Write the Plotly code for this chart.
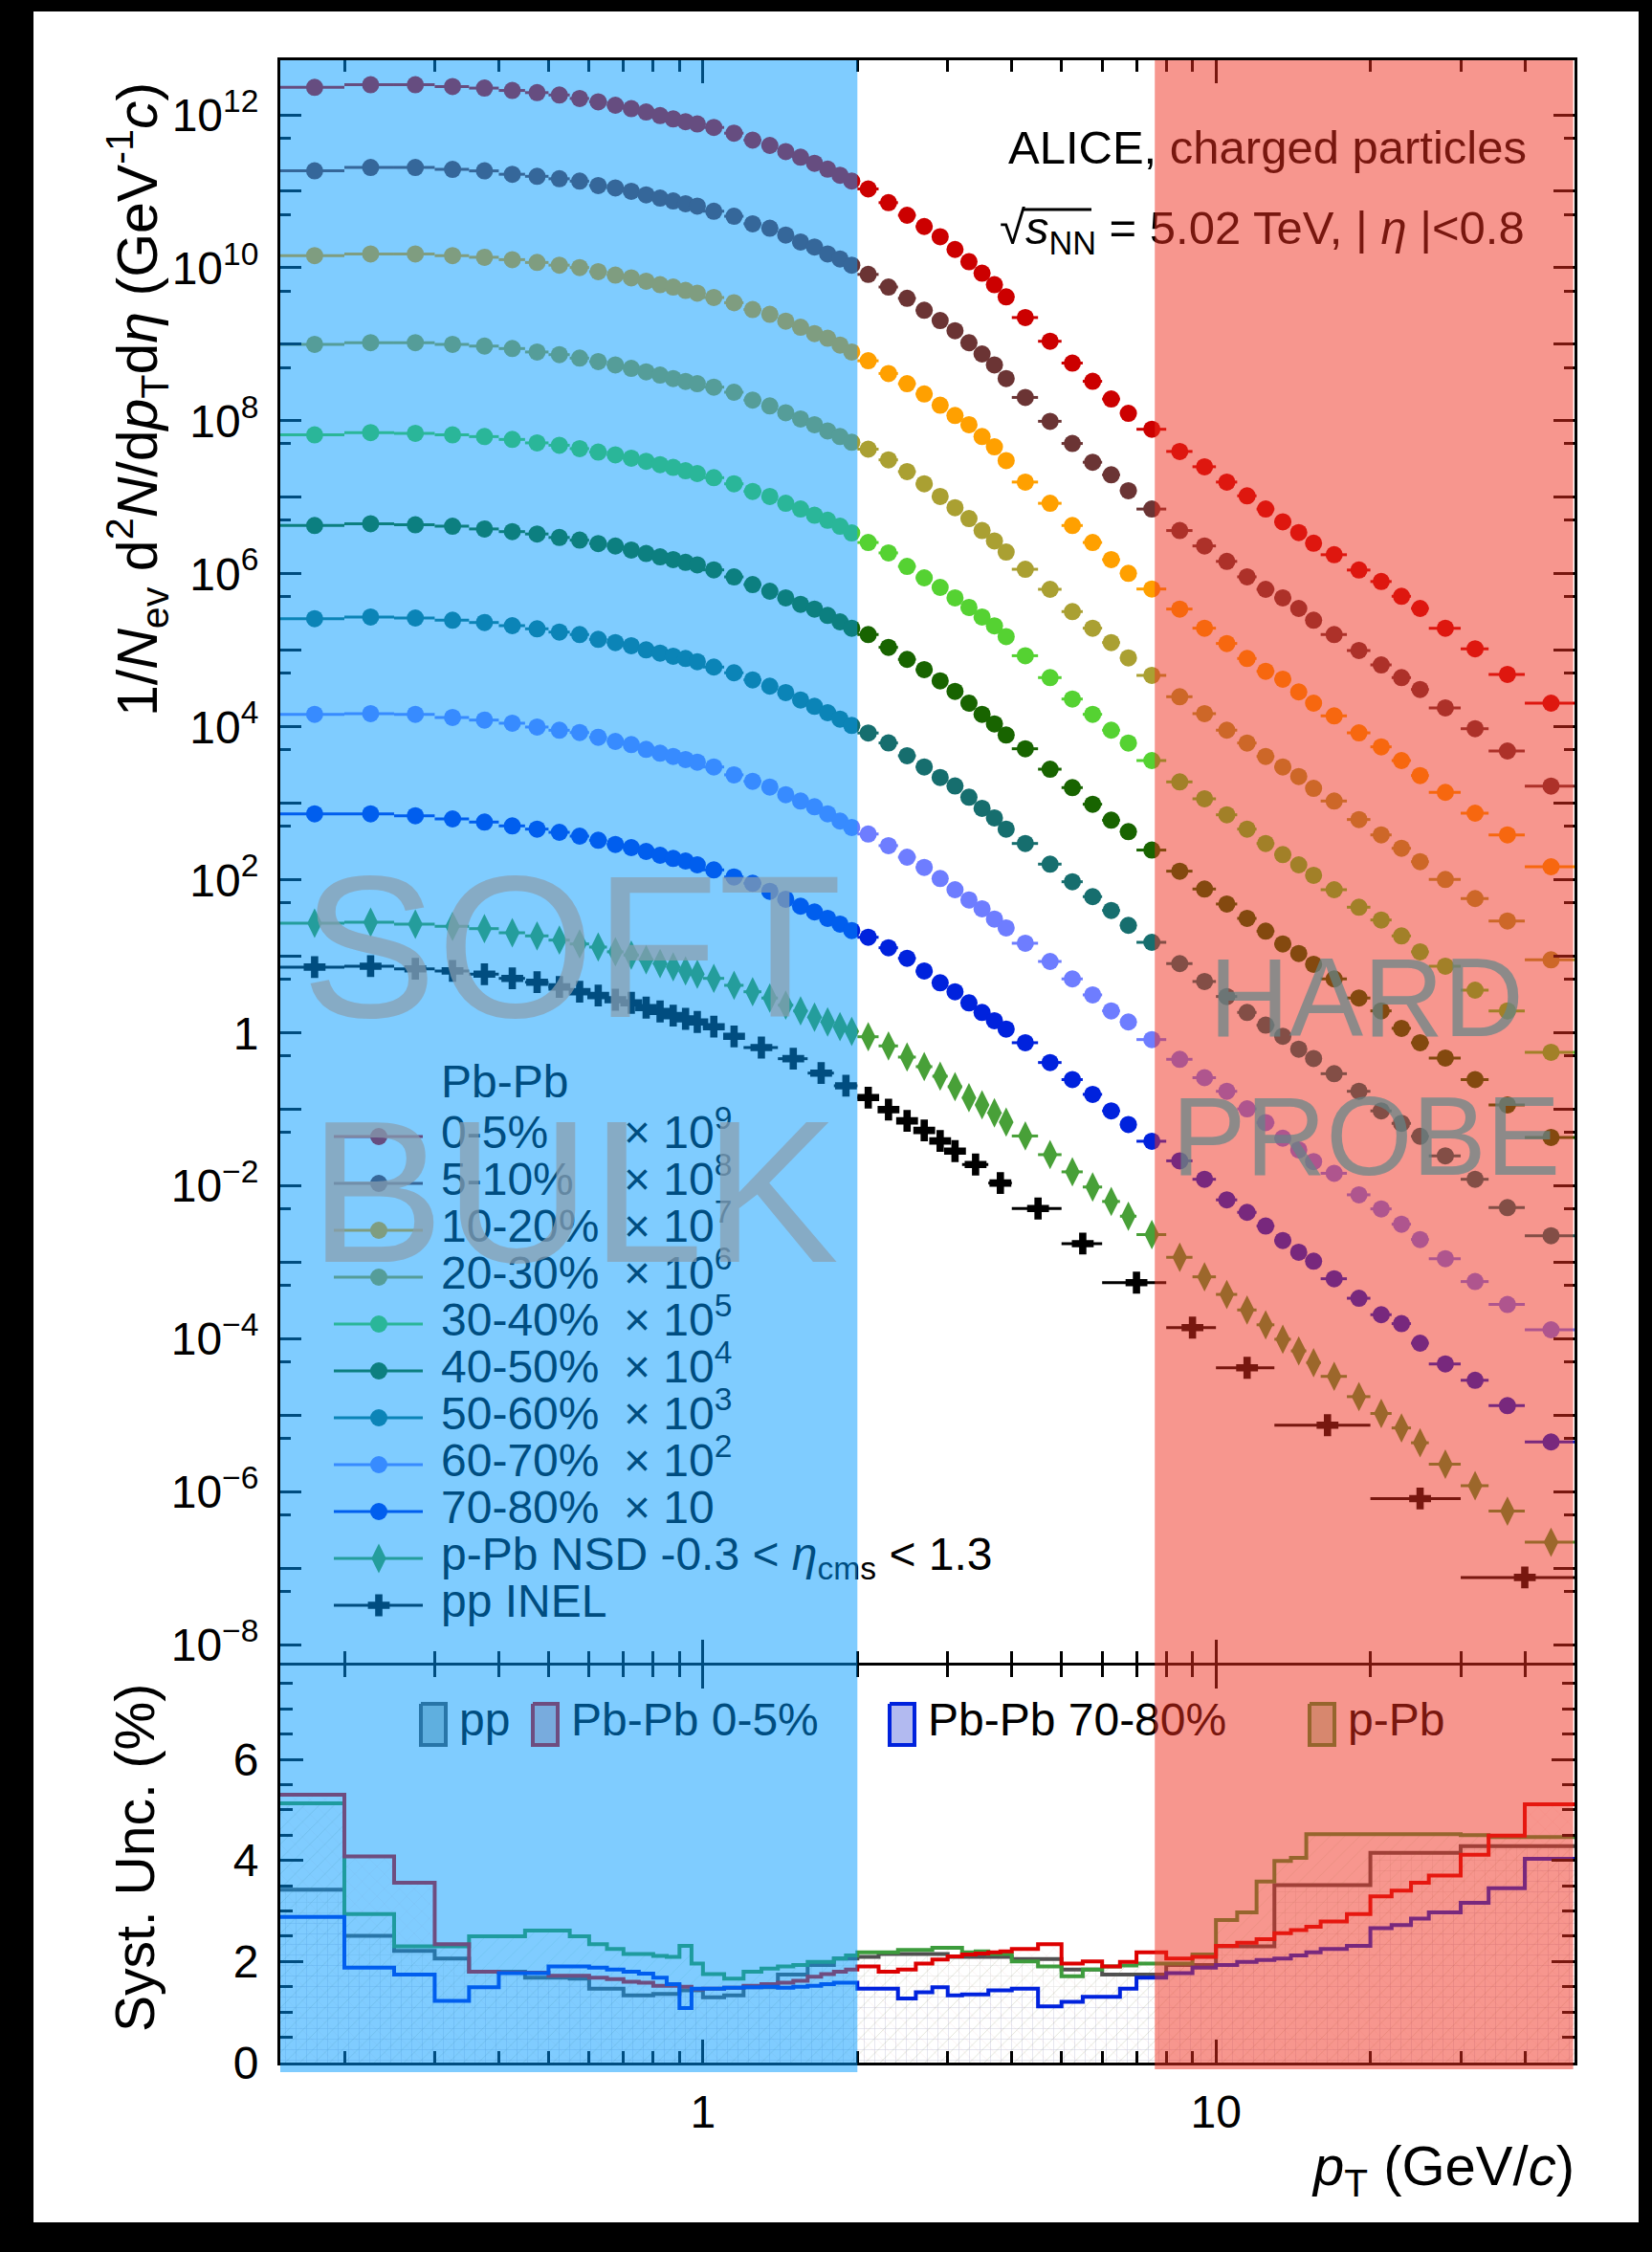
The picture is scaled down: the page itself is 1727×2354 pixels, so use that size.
import numpy as np
import plotly.graph_objects as go

# ---------------- data ----------------
PBPB_EDGES = [0.15, 0.2, 0.25, 0.3, 0.35, 0.4, 0.45, 0.5, 0.55, 0.6, 0.65, 0.7, 0.75, 0.8, 0.85, 0.9, 0.95, 1.0,
              1.1, 1.2, 1.3, 1.4, 1.5, 1.6, 1.7, 1.8, 1.9, 2.0,
              2.2, 2.4, 2.6, 2.8, 3.0, 3.2, 3.4, 3.6, 3.8, 4.0,
              4.5, 5.0, 5.5, 6.0, 6.5, 7.0,
              8, 9, 10, 11, 12, 13, 14, 15, 16,
              18, 20, 22, 24, 26, 30, 34, 40, 50]
PP_EDGES = [0.15, 0.2, 0.25, 0.3, 0.35, 0.4, 0.45, 0.5, 0.55, 0.6, 0.65, 0.7, 0.75, 0.8, 0.85, 0.9, 0.95, 1.0,
            1.1, 1.2, 1.4, 1.6, 1.8, 2.0, 2.2, 2.4, 2.6, 2.8, 3.0, 3.2, 3.6, 4.0,
            5, 6, 8, 10, 13, 20, 30, 50]

# log10 of the plotted (scaled) yields
logy_0_5 = [12.358, 12.393, 12.393, 12.37, 12.349, 12.318, 12.29, 12.259, 12.214, 12.17, 12.125, 12.08, 12.036, 11.99, 11.946, 11.91, 11.88,
            11.835, 11.76, 11.67, 11.60, 11.52, 11.446, 11.366, 11.29, 11.21, 11.134,
            11.031, 10.852, 10.687, 10.54, 10.406, 10.24, 10.08, 9.93, 9.78, 9.62,
            9.35, 9.04, 8.755, 8.517, 8.285, 8.098,
            7.89, 7.60, 7.40, 7.20, 7.02, 6.847, 6.68, 6.54, 6.40,
            6.25, 6.05, 5.90, 5.707, 5.548,
            5.29, 5.02, 4.686, 4.31]
logy_5_10 = [11.267, 11.312, 11.312, 11.286, 11.267, 11.223, 11.196, 11.164, 11.133, 11.076, 11.044, 11.0, 10.954, 10.911, 10.874, 10.838, 10.807,
             10.74, 10.674, 10.576, 10.517, 10.428, 10.338, 10.272, 10.182, 10.116, 10.035,
             9.914, 9.749, 9.602, 9.445, 9.311, 9.178, 9.021, 8.874, 8.731, 8.553,
             8.306, 7.994, 7.704, 7.459, 7.294, 7.087,
             6.847, 6.566, 6.365, 6.163, 5.961, 5.798, 5.686, 5.548, 5.394,
             5.207, 4.998, 4.81, 4.644, 4.489,
             4.248, 3.976, 3.685, 3.226]
logy_10_20 = [10.16, 10.182, 10.182, 10.16, 10.138, 10.107, 10.07, 10.035, 10.004, 9.95, 9.905, 9.869, 9.825, 9.78, 9.749, 9.704, 9.669,
              9.612, 9.544, 9.454, 9.392, 9.303, 9.223, 9.141, 9.079, 8.99, 8.90,
              8.785, 8.619, 8.485, 8.351, 8.204, 8.07, 7.95, 7.794, 7.66, 7.481,
              7.20, 6.922, 6.632, 6.41, 6.186, 6.007,
              5.802, 5.54, 5.29, 5.09, 4.894, 4.727, 4.623, 4.457, 4.31,
              4.144, 3.922, 3.739, 3.56, 3.364,
              3.144, 2.872, 2.588, 2.172]
logy_20_30 = [9.0, 9.022, 9.022, 9.0, 8.977, 8.945, 8.90, 8.865, 8.82, 8.775, 8.731, 8.686, 8.641, 8.598, 8.553, 8.516, 8.485,
              8.441, 8.374, 8.271, 8.195, 8.106, 8.025, 7.95, 7.869, 7.794, 7.72,
              7.63, 7.49, 7.337, 7.177, 7.012, 6.865, 6.722, 6.566, 6.431, 6.285,
              6.06, 5.798, 5.507, 5.29, 5.102, 4.902,
              4.673, 4.394, 4.173, 3.957, 3.789, 3.614, 3.476, 3.351, 3.197,
              3.031, 2.789, 2.588, 2.413, 2.238,
              2.006, 1.756, 1.463, 0.955]
logy_30_40 = [7.816, 7.847, 7.837, 7.816, 7.794, 7.757, 7.712, 7.681, 7.637, 7.592, 7.556, 7.512, 7.472, 7.427, 7.391, 7.347, 7.311,
              7.257, 7.177, 7.078, 7.012, 6.922, 6.847, 6.766, 6.70, 6.623, 6.535,
              6.41, 6.274, 6.097, 5.948, 5.823, 5.686, 5.561, 5.436, 5.32, 5.18,
              4.93, 4.644, 4.364, 4.164, 3.957, 3.789,
              3.56, 3.281, 3.06, 2.851, 2.664, 2.476, 2.331, 2.197, 2.06,
              1.872, 1.643, 1.476, 1.268, 1.06,
              0.872, 0.559, 0.288, -0.253]
logy_40_50 = [6.632, 6.655, 6.641, 6.623, 6.587, 6.552, 6.521, 6.476, 6.441, 6.396, 6.364, 6.311, 6.266, 6.222, 6.186, 6.15, 6.118,
              6.052, 5.96, 5.86, 5.773, 5.686, 5.602, 5.54, 5.457, 5.373, 5.29,
              5.207, 5.04, 4.882, 4.748, 4.602, 4.464, 4.31, 4.164, 4.039, 3.894,
              3.714, 3.447, 3.206, 2.989, 2.78, 2.63,
              2.39, 2.114, 1.881, 1.685, 1.497, 1.33, 1.163, 1.038, 0.897,
              0.706, 0.456, 0.288, 0.06, -0.128,
              -0.328, -0.61, -0.94, -1.366]
logy_50_60 = [5.414, 5.436, 5.423, 5.394, 5.364, 5.323, 5.282, 5.239, 5.207, 5.144, 5.102, 5.061, 5.007, 4.964, 4.923, 4.894, 4.852,
              4.782, 4.707, 4.614, 4.532, 4.448, 4.352, 4.269, 4.185, 4.101, 4.019,
              3.92, 3.79, 3.623, 3.477, 3.339, 3.227, 3.081, 2.935, 2.81, 2.664,
              2.476, 2.206, 1.976, 1.781, 1.601, 1.406,
              1.184, 0.906, 0.672, 0.476, 0.268, 0.101, -0.044, -0.212, -0.334,
              -0.533, -0.763, -1.019, -1.182, -1.351,
              -1.606, -1.913, -2.284, -2.651]
logy_60_70 = [4.164, 4.173, 4.164, 4.123, 4.089, 4.048, 3.998, 3.956, 3.926, 3.864, 3.81, 3.769, 3.706, 3.656, 3.614, 3.573, 3.539,
              3.476, 3.373, 3.289, 3.214, 3.114, 3.031, 2.956, 2.864, 2.769, 2.685,
              2.60, 2.448, 2.297, 2.164, 2.018, 1.872, 1.738, 1.622, 1.488, 1.372,
              1.172, 0.934, 0.706, 0.497, 0.288, 0.143,
              -0.087, -0.345, -0.585, -0.763, -0.993, -1.172, -1.376, -1.528, -1.682,
              -1.835, -2.116, -2.30, -2.50, -2.70,
              -2.95, -3.25, -3.55, -3.88]
logy_70_80 = [2.864, 2.864, 2.839, 2.797, 2.756, 2.706, 2.664, 2.622, 2.572, 2.518, 2.463, 2.422, 2.372, 2.322, 2.281, 2.247, 2.197,
              2.131, 2.038, 1.956, 1.851, 1.747, 1.656, 1.581, 1.497, 1.422, 1.338,
              1.25, 1.113, 0.976, 0.81, 0.655, 0.538, 0.393, 0.268, 0.16, 0.05,
              -0.128, -0.387, -0.61, -0.803, -1.019, -1.197,
              -1.416, -1.672, -1.913, -2.182, -2.345, -2.524, -2.713, -2.866, -2.984,
              -3.213, -3.468, -3.683, -3.80, -4.055,
              -4.326, -4.54, -4.872, -5.346]
logy_ppb = [1.434, 1.447, 1.422, 1.393, 1.363, 1.309, 1.268, 1.213, 1.163, 1.122, 1.06, 1.018, 0.956, 0.906, 0.863, 0.81, 0.768,
            0.713, 0.622, 0.538, 0.456, 0.363, 0.288, 0.206, 0.143, 0.081, 0.02,
            -0.05, -0.17, -0.316, -0.441, -0.566, -0.703, -0.847, -0.941, -1.045, -1.166,
            -1.347, -1.591, -1.816, -2.014, -2.203, -2.396,
            -2.636, -2.933, -3.188, -3.418, -3.621, -3.815, -4.004, -4.156, -4.31,
            -4.489, -4.754, -4.974, -5.163, -5.357,
            -5.637, -5.918, -6.25, -6.657]
logy_pp = [0.86, 0.872, 0.838, 0.81, 0.768, 0.713, 0.663, 0.601, 0.538, 0.488, 0.434, 0.393, 0.331, 0.281, 0.226, 0.184, 0.143,
           0.081, -0.045, -0.191, -0.337, -0.525, -0.691,
           -0.845, -1.003, -1.15, -1.275, -1.412, -1.545,
           -1.72, -1.962,
           -2.295, -2.754, -3.264, -3.852, -4.377,
           -5.127, -6.086, -7.117]

# systematic uncertainties (%)
sys_pbpb_0_5 = [5.30, 4.08, 3.56, 2.34, 1.80, 1.78, 1.78, 1.72, 1.72, 1.68, 1.65, 1.60, 1.58, 1.52, 1.52, 1.50, 1.45,
                1.46, 1.48, 1.52, 1.55, 1.58, 1.62, 1.70, 1.75, 1.80, 1.84,
                1.90, 1.80, 1.84, 1.96, 2.04, 2.10, 2.14, 2.16, 2.18, 2.20,
                2.25, 2.34, 1.96, 2.00, 1.90, 1.99,
                2.18, 2.06, 2.09, 2.31, 2.37, 2.44, 2.56, 2.62, 2.69,
                2.79, 2.94, 3.29, 3.40, 3.56,
                3.70, 4.11, 4.49, 5.11]
sys_pbpb_70_80 = [2.88, 1.88, 1.74, 1.22, 1.49, 1.77, 1.77, 1.90, 1.90, 1.88, 1.84, 1.80, 1.76, 1.68, 1.55, 1.08, 1.46,
                  1.46, 1.48, 1.49, 1.50, 1.48, 1.50, 1.52, 1.55, 1.58, 1.58,
                  1.46, 1.46, 1.27, 1.39, 1.49, 1.33, 1.35, 1.35, 1.43, 1.43,
                  1.46, 1.11, 1.20, 1.30, 1.30, 1.46,
                  1.68, 1.77, 1.88, 1.93, 1.99, 2.03, 2.06, 2.12, 2.18,
                  2.25, 2.31, 2.66, 2.72, 2.85,
                  2.97, 3.16, 3.45, 4.03]
sys_ppb = [5.13, 2.94, 2.30, 2.30, 2.50, 2.50, 2.61, 2.61, 2.50, 2.34, 2.25, 2.15, 2.15, 2.11, 2.09, 2.31, 1.96,
           1.75, 1.66, 1.80, 1.86, 1.90, 1.93, 1.99, 1.99, 2.06, 2.12,
           2.18, 2.18, 2.23, 2.23, 2.27, 2.27, 2.18, 2.20, 2.15, 2.15,
           2.00, 1.90, 1.71, 1.84, 1.90, 1.92,
           1.96, 1.96, 2.14, 2.82, 2.97, 3.58, 3.99, 4.05, 4.52,
           4.52, 4.52, 4.52, 4.52, 4.52,
           4.52, 4.50, 4.46, 4.46]
sys_pp = [3.42, 2.51, 2.21, 2.06, 1.80, 1.80, 1.68, 1.68, 1.66, 1.46, 1.46, 1.33, 1.33, 1.36, 1.36, 1.43, 1.43,
          1.29, 1.33, 1.49, 1.74, 1.93, 2.06,
          2.09, 2.15, 2.15, 2.15, 2.15, 2.09,
          2.09, 2.09,
          2.05, 1.84, 1.74, 1.93, 2.30,
          3.51, 4.15, 4.28]

PBPB_LABELS = ["0-5%", "5-10%", "10-20%", "20-30%", "30-40%", "40-50%", "50-60%", "60-70%", "70-80%"]
PBPB_SCALES = ["× 10<sup>9</sup>", "× 10<sup>8</sup>", "× 10<sup>7</sup>", "× 10<sup>6</sup>", "× 10<sup>5</sup>",
               "× 10<sup>4</sup>", "× 10<sup>3</sup>", "× 10<sup>2</sup>", "× 10"]
PBPB_COLORS = ["#cc0000", "#6b3434", "#ffa000", "#aaa032", "#55d232", "#186400", "#166e6e", "#6e7dff", "#0022dd"]
PBPB_LOGY = [logy_0_5, logy_5_10, logy_10_20, logy_20_30, logy_30_40, logy_40_50, logy_50_60, logy_60_70, logy_70_80]
PPB_COLOR = "#48a038"
PP_COLOR = "#000000"

X_TICKS = [1, 10]
X_TICKTEXT = ["1", "10"]
X_MINOR = [0.2, 0.3, 0.4, 0.5, 0.6, 0.7, 0.8, 0.9, 2, 3, 4, 5, 6, 7, 8, 9, 20, 30, 40, 50]
Y_DECADES = list(range(-8, 13))
Y2_TICKS = [0, 2, 4, 6]

# ---------------- layout geometry (page pixels) ----------------
W, H = 1727, 2354
L, R, T, B = 293, 1646, 63, 2156
TOP_BOTTOM = 1738.0      # bottom edge of the spectra panel
LOW_TOP = 1741.0         # top edge of the uncertainty panel (frame lines meet at ~1739.5)
FONT = "Liberation Sans, Arial, Helvetica, sans-serif"


def xp(px):
    return (px - L) / (R - L)


def yp(py):
    return (B - py) / (B - T)


def centers(edges):
    return [(a + b) / 2 for a, b in zip(edges[:-1], edges[1:])]


def errs(edges):
    c = centers(edges)
    return [e - m for m, e in zip(c, edges[1:])], [m - e for m, e in zip(c, edges[:-1])]


fig = go.Figure()

# ---------------- spectra ----------------
xc = centers(PBPB_EDGES)
ep, em = errs(PBPB_EDGES)
for lab, col, ly in zip(PBPB_LABELS, PBPB_COLORS, PBPB_LOGY):
    fig.add_trace(go.Scatter(
        x=xc, y=np.power(10.0, ly), mode="markers", name=lab, showlegend=False,
        marker=dict(symbol="circle", size=18, color=col, line=dict(width=0)),
        error_x=dict(type="data", symmetric=False, array=ep, arrayminus=em, color=col, thickness=3, width=0),
        xaxis="x", yaxis="y"))
fig.add_trace(go.Scatter(
    x=xc, y=np.power(10.0, logy_ppb), mode="markers", name="p-Pb", showlegend=False,
    marker=dict(symbol="diamond-tall", size=22, color=PPB_COLOR, line=dict(width=0)),
    error_x=dict(type="data", symmetric=False, array=ep, arrayminus=em, color=PPB_COLOR, thickness=3, width=0),
    xaxis="x", yaxis="y"))
xpp = centers(PP_EDGES)
epp, empp = errs(PP_EDGES)
fig.add_trace(go.Scatter(
    x=xpp, y=np.power(10.0, logy_pp), mode="markers", name="pp", showlegend=False,
    marker=dict(symbol="cross", size=19, color=PP_COLOR, line=dict(width=0)),
    error_x=dict(type="data", symmetric=False, array=epp, arrayminus=empp, color=PP_COLOR, thickness=3, width=0),
    xaxis="x", yaxis="y"))

# ---------------- systematic uncertainties ----------------
SYS = [
    (PP_EDGES, sys_pp, "#505050", "+", "rgba(110,110,110,0.45)"),
    (PBPB_EDGES, sys_ppb, "#3c9c3c", "/", "rgba(60,150,60,0.30)"),
    (PBPB_EDGES, sys_pbpb_0_5, "#dd0000", "x", "rgba(220,80,80,0.30)"),
    (PBPB_EDGES, sys_pbpb_70_80, "#0022dd", "+", "rgba(60,60,220,0.25)"),
]
for edges, vals, col, pat, pcol in SYS:
    fig.add_trace(go.Scatter(
        x=edges, y=list(vals) + [vals[-1]], mode="lines", showlegend=False,
        line=dict(shape="hv", color=col, width=4),
        fill="tozeroy", fillcolor="rgba(0,0,0,0)",
        fillpattern=dict(shape=pat, fgcolor=pcol, bgcolor="rgba(0,0,0,0)", size=11, solidity=0.08),
        xaxis="x2", yaxis="y2"))

# ---------------- overlay (page-pixel axes) for legends and texts ----------------
OV = dict(xaxis="x3", yaxis="y3", showlegend=False, hoverinfo="skip")


def text_at(x, y, txt, size=48, color="black"):
    fig.add_trace(go.Scatter(x=[x], y=[y], mode="text", text=[txt], textposition="middle right",
                             textfont=dict(family=FONT, size=size, color=color), **OV))


# main legend
LEG_Y0, LEG_DY = 1188, 49
LEG_MX, LEG_LX0, LEG_LX1, LEG_TX, LEG_SX = 396, 349, 442, 461, 652
text_at(LEG_TX, 1135, "Pb-Pb")
rows = list(zip(PBPB_LABELS, PBPB_SCALES, PBPB_COLORS))
for i, (lab, sc, col) in enumerate(rows):
    y = LEG_Y0 + i * LEG_DY
    fig.add_trace(go.Scatter(x=[LEG_LX0, LEG_LX1], y=[y, y], mode="lines", line=dict(color=col, width=3), **OV))
    fig.add_trace(go.Scatter(x=[LEG_MX], y=[y], mode="markers", marker=dict(symbol="circle", size=18, color=col), **OV))
    text_at(LEG_TX, y, lab)
    text_at(LEG_SX, y, sc)
y = LEG_Y0 + 9 * LEG_DY
fig.add_trace(go.Scatter(x=[LEG_LX0, LEG_LX1], y=[y, y], mode="lines", line=dict(color=PPB_COLOR, width=3), **OV))
fig.add_trace(go.Scatter(x=[LEG_MX], y=[y], mode="markers", marker=dict(symbol="diamond-tall", size=22, color=PPB_COLOR), **OV))
text_at(LEG_TX, y, "p-Pb NSD -0.3 &lt; <i>η</i><sub>cms</sub> &lt; 1.3")
y = LEG_Y0 + 10 * LEG_DY
fig.add_trace(go.Scatter(x=[LEG_LX0, LEG_LX1], y=[y, y], mode="lines", line=dict(color=PP_COLOR, width=3), **OV))
fig.add_trace(go.Scatter(x=[LEG_MX], y=[y], mode="markers", marker=dict(symbol="cross", size=19, color=PP_COLOR), **OV))
text_at(LEG_TX, y, "pp INEL")

# systematics legend
SYS_LEG = [
    (440, "pp", "#505050", "rgb(190,196,190)"),
    (557, "Pb-Pb 0-5%", "#dd0000", "rgb(240,188,186)"),
    (930, "Pb-Pb 70-80%", "#0022dd", "rgb(178,186,240)"),
    (1369, "p-Pb", "#3c9c3c", "rgb(190,225,190)"),
]
for x0, lab, lc, fc in SYS_LEG:
    x1 = x0 + 26
    fig.add_trace(go.Scatter(x=[x0, x1, x1, x0, x0], y=[1781, 1781, 1824, 1824, 1781], mode="lines",
                             fill="toself", fillcolor=fc, line=dict(color=lc, width=4), **OV))
    text_at(x1 + 14, 1802, lab)

# ALICE label
text_at(1054, 159, "ALICE, charged particles", size=49)
text_at(1045, 243, "√<i>s</i><sub>NN</sub> = 5.02 TeV, | <i>η</i> |&lt;0.8", size=49)
fig.add_trace(go.Scatter(x=[1070, 1141], y=[219, 219], mode="lines", line=dict(color="black", width=3), **OV))

# ---------------- shapes: page frame and region shading ----------------
shapes = [
    dict(type="rect", xref="paper", yref="paper", x0=xp(35), x1=xp(1713), y0=yp(2323), y1=yp(12),
         fillcolor="white", line=dict(width=0), layer="below"),
    dict(type="rect", xref="x", yref="paper", x0=0.15, x1=2.0, y0=yp(2166), y1=1.0,
         fillcolor="rgba(0,153,255,0.5)", line=dict(width=0), layer="above"),
    dict(type="rect", xref="x", yref="paper", x0=7.6, x1=49.7, y0=yp(2163), y1=1.0,
         fillcolor="rgba(240,45,30,0.5)", line=dict(width=0), layer="above"),
]

annotations = [
    dict(text="SOFT", x=597, y=989, xref="x3", yref="y3", showarrow=False, xanchor="center", yanchor="middle",
         font=dict(family=FONT, size=212, color="rgba(137,158,175,0.72)")),
    dict(text="BULK", x=600, y=1245, xref="x3", yref="y3", showarrow=False, xanchor="center", yanchor="middle",
         font=dict(family=FONT, size=212, color="rgba(137,158,175,0.72)")),
    dict(text="HARD", x=1428, y=1043, xref="x3", yref="y3", showarrow=False, xanchor="center", yanchor="middle",
         font=dict(family=FONT, size=116, color="rgba(100,133,136,0.72)")),
    dict(text="PROBE", x=1428, y=1188, xref="x3", yref="y3", showarrow=False, xanchor="center", yanchor="middle",
         font=dict(family=FONT, size=116, color="rgba(100,133,136,0.72)")),
    dict(text="1/<i>N</i><sub>ev</sub> d<sup>2</sup><i>N</i>/d<i>p</i><sub>T</sub>d<i>η</i> (GeV<sup>-1</sup><i>c</i>)",
         x=xp(143), y=yp(418), xref="paper", yref="paper", showarrow=False, textangle=-90,
         xanchor="center", yanchor="middle", font=dict(family=FONT, size=59, color="black")),
    dict(text="Syst. Unc. (%)", x=xp(141), y=yp(1942), xref="paper", yref="paper", showarrow=False, textangle=-90,
         xanchor="center", yanchor="middle", font=dict(family=FONT, size=57, color="black")),
    dict(text="<i>p</i><sub>T</sub> (GeV/<i>c</i>)", x=xp(1648), y=yp(2268), xref="paper", yref="paper",
         showarrow=False, xanchor="right", yanchor="middle", font=dict(family=FONT, size=58, color="black")),
]

AX = dict(showline=True, linecolor="black", linewidth=3, mirror="ticks", ticks="inside", tickcolor="black",
          tickwidth=3, showgrid=False, zeroline=False, tickfont=dict(family=FONT, size=48, color="black"))
X_RANGE = [np.log10(0.15), np.log10(50)]
MINOR_X = dict(tickmode="array", tickvals=X_MINOR, ticks="inside", ticklen=12, tickwidth=3, tickcolor="black")

y_ticktext = []
for d in Y_DECADES:
    if d % 2:
        y_ticktext.append(" ")
    elif d == 0:
        y_ticktext.append("1")
    else:
        y_ticktext.append("10<sup>%s</sup>" % (str(d).replace("-", "−")))

# y ranges: 10^12 at page y 120, 10^-8 at 1719.5; uncertainty 0 at 2156, 6 at 1839
DEC_PX = (1719.5 - 120.0) / 20.0
Y_RANGE = [-8 - (TOP_BOTTOM - 1719.5) / DEC_PX, 12 + (120.0 - T) / DEC_PX]
UNIT_PX = (B - 1839.0) / 6.0
Y2_RANGE = [0, (B - LOW_TOP) / UNIT_PX]

fig.update_layout(
    width=W, height=H, autosize=False,
    margin=dict(l=L, r=W - R, t=T, b=H - B, pad=0),
    paper_bgcolor="black", plot_bgcolor="rgba(0,0,0,0)",
    font=dict(family=FONT, size=48, color="black"),
    showlegend=False,
    xaxis=dict(AX, domain=[0, 1], anchor="y", type="log", range=X_RANGE, tickmode="array",
               tickvals=X_TICKS, ticktext=X_TICKTEXT, showticklabels=False, ticklen=24, minor=MINOR_X),
    yaxis=dict(AX, domain=[yp(TOP_BOTTOM), 1], anchor="x", type="log", range=Y_RANGE, tickmode="array",
               tickvals=[10.0 ** d for d in Y_DECADES], ticktext=y_ticktext, ticklen=22, ticklabelstandoff=10,
               minor=dict(tickmode="array", tickvals=[5 * 10.0 ** d for d in range(-9, 12)], ticks="inside",
                          ticklen=11, tickwidth=3, tickcolor="black")),
    xaxis2=dict(AX, domain=[0, 1], anchor="y2", type="log", range=X_RANGE, matches="x", tickmode="array",
                tickvals=X_TICKS, ticktext=X_TICKTEXT, ticklen=24, ticklabelstandoff=7, minor=MINOR_X),
    yaxis2=dict(AX, domain=[0, yp(LOW_TOP)], anchor="x2", range=Y2_RANGE, tickmode="array",
                tickvals=Y2_TICKS, ticktext=[str(v) for v in Y2_TICKS], ticklen=24, ticklabelstandoff=10,
                minor=dict(dtick=0.5, ticks="inside", ticklen=13, tickwidth=3, tickcolor="black")),
    xaxis3=dict(domain=[0, 1], anchor="y3", range=[L, R], visible=False, fixedrange=True),
    yaxis3=dict(domain=[0, 1], anchor="x3", range=[B, T], visible=False, fixedrange=True),
    shapes=shapes,
    annotations=annotations,
)

fig.write_html("out.html")
